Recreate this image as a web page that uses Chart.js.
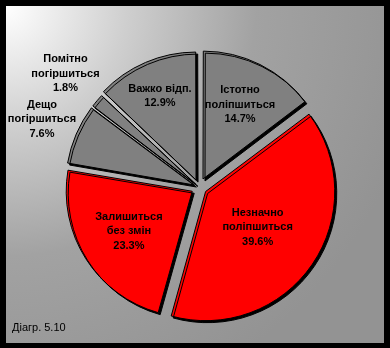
<!DOCTYPE html>
<html>
<head>
<meta charset="utf-8">
<script src="https://cdn.jsdelivr.net/npm/chart.js@4/dist/chart.umd.min.js"></script>
<style>
  html, body { margin: 0; padding: 0; background: #000; }
  #frame { position: relative; width: 390px; height: 348px; background: #000; overflow: hidden; }
  #panel {
    position: absolute; left: 6px; top: 6px; width: 378px; height: 337px;
    background: radial-gradient(circle at 0 0, #ffffff 0px, #cfcfcf 120px, #a2a2a2 250px, #939393 420px);
  }
  #chart { position: absolute; left: 0; top: 0; }
  #note {
    position: absolute; left: 12px; top: 321px;
    font: 11px "Liberation Sans", Arial, sans-serif; color: #000;
  }
</style>
</head>
<body>
<div id="frame">
  <div id="panel"></div>
  <canvas id="chart" width="390" height="348"></canvas>
  <div id="note">Діагр. 5.10</div>
</div>
<script>
const categories = [
  ['Істотно', 'поліпшиться'],
  ['Незначно', 'поліпшиться'],
  ['Залишиться', 'без змін'],
  ['Дещо', 'погіршиться'],
  ['Помітно', 'погіршиться'],
  ['Важко відп.']
];
const shares = [14.7, 39.6, 23.3, 7.6, 1.8, 12.9];
const sliceColors = ['#808080', '#ff0000', '#ff0000', '#808080', '#808080', '#808080'];

// how far each slice is pulled out (px) and where its label sits from the centre
const explode = [9, 8, 8, 5, 4, 7.5];
const labelDist = [92, 71, 83, 171, 175, 99];

const pieDecor = {
  id: 'pieDecor',
  beforeDatasetsDraw(chart) {
    const ctx = chart.ctx;
    ctx.save();
    ctx.shadowColor = '#000';
    ctx.shadowBlur = 0;
    ctx.shadowOffsetX = 2;
    ctx.shadowOffsetY = 2;
  },
  afterDatasetsDraw(chart) {
    const ctx = chart.ctx;
    ctx.restore();
    const arcs = chart.getDatasetMeta(0).data;
    ctx.save();
    ctx.font = 'bold 11px "Liberation Sans", Arial, sans-serif';
    ctx.fillStyle = '#000';
    ctx.textAlign = 'center';
    ctx.textBaseline = 'middle';
    arcs.forEach((arc, i) => {
      const mid = (arc.startAngle + arc.endAngle) / 2;
      const x = arc.x + Math.cos(mid) * labelDist[i];
      const y = arc.y + Math.sin(mid) * labelDist[i];
      const lines = categories[i].concat(shares[i].toFixed(1) + '%');
      const lh = 14.5;
      lines.forEach((t, k) => {
        ctx.fillText(t, x, y + (k - (lines.length - 1) / 2) * lh);
      });
    });
    ctx.restore();
  }
};

new Chart(document.getElementById('chart'), {
  type: 'pie',
  data: {
    labels: categories.map(c => c.join(' ')),
    datasets: [{
      data: shares,
      backgroundColor: sliceColors,
      borderColor: '#000',
      borderWidth: 1,
      offset: explode.map(v => v * 4),
      clip: false
    }]
  },
  options: {
    responsive: false,
    animation: false,
    radius: 126,
    layout: { padding: { left: 14, right: 6, top: 30, bottom: 4 } },
    plugins: {
      legend: { display: false },
      tooltip: { enabled: false }
    }
  },
  plugins: [pieDecor]
});
</script>
</body>
</html>
